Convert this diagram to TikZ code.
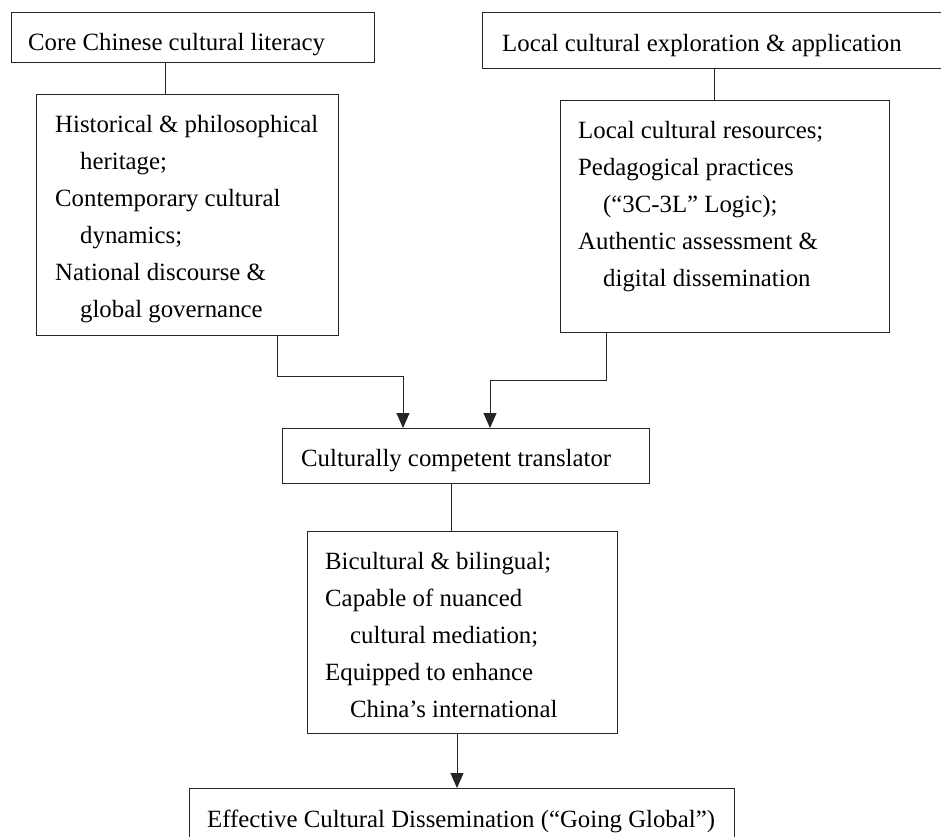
\documentclass[tikz,border=0pt]{standalone}
\usepackage{fontspec}
\setmainfont{Liberation Serif}
\usetikzlibrary{arrows.meta}
\begin{document}
\begin{tikzpicture}[x=1pt,y=-1pt,
  box/.style={draw=black!85,line width=1pt,rectangle,anchor=north west,inner sep=0pt},
  txt/.style={inner sep=0pt,align=left,font=\fontsize{24.8}{37}\selectfont},
  conn/.style={draw=black!85,line width=1pt},
  arr/.style={conn,-{Triangle[length=15pt,width=13pt]}}]
\useasboundingbox (0,0) rectangle (941,836);
\clip (0,0) rectangle (941,836);
% boxes
\node[box,minimum width=363pt,minimum height=50pt] (b1) at (11,12) {};
\node[box,minimum width=470pt,minimum height=56pt] (b2) at (482,12) {};
\node[box,minimum width=302pt,minimum height=241pt] (b3) at (36,94) {};
\node[box,minimum width=329pt,minimum height=232pt] (b4) at (560,100) {};
\node[box,minimum width=367pt,minimum height=55pt] (b5) at (282,428) {};
\node[box,minimum width=310pt,minimum height=202pt] (b6) at (307,531) {};
\node[box,minimum width=545pt,minimum height=70pt] (b7) at (189,788) {};
% texts
\node[txt,anchor=base west] (t1) at (28,50) {Core Chinese cultural literacy};
\node[txt,anchor=base west] (t2) at (502,51) {Local cultural exploration \& application};
\node[txt,anchor=north west] (t3) at (55,115) {Historical \& philosophical\\\hspace*{25pt}heritage;\\Contemporary cultural\\\hspace*{25pt}dynamics;\\National discourse \&\\\hspace*{25pt}global governance};
\node[txt,anchor=north west] (t4) at (578,121) {Local cultural resources;\\Pedagogical practices\\\hspace*{25pt}(“3C-3L” Logic);\\Authentic assessment \&\\\hspace*{25pt}digital dissemination};
\node[txt,anchor=base west] (t5) at (301,466) {Culturally competent translator};
\node[txt,anchor=north west] (t6) at (325,552) {Bicultural \& bilingual;\\Capable of nuanced\\\hspace*{25pt}cultural mediation;\\Equipped to enhance\\\hspace*{25pt}China’s international};
\node[txt,anchor=base west] (t7) at (207,827) {Effective Cultural Dissemination (“Going Global”)};
% connector x positions
\coordinate (x1) at (165,0);
\coordinate (x2) at (714,0);
\coordinate (x3) at (277,0);
\coordinate (x4) at (403,0);
\coordinate (x5) at (606,0);
\coordinate (x6) at (490,0);
\coordinate (x7) at (451,0);
\coordinate (x8) at (457,0);
\coordinate (k1) at (0,376);
\coordinate (k2) at (0,380);
% connectors
\draw[conn] (x1 |- b1.south) -- (x1 |- b3.north);
\draw[conn] (x2 |- b2.south) -- (x2 |- b4.north);
\draw[arr] (x3 |- b3.south) -- (x3 |- k1) -- (x4 |- k1) -- (x4 |- b5.north);
\draw[arr] (x5 |- b4.south) -- (x5 |- k2) -- (x6 |- k2) -- (x6 |- b5.north);
\draw[conn] (x7 |- b5.south) -- (x7 |- b6.north);
\draw[arr] (x8 |- b6.south) -- (x8 |- b7.north);
\end{tikzpicture}
\end{document}
